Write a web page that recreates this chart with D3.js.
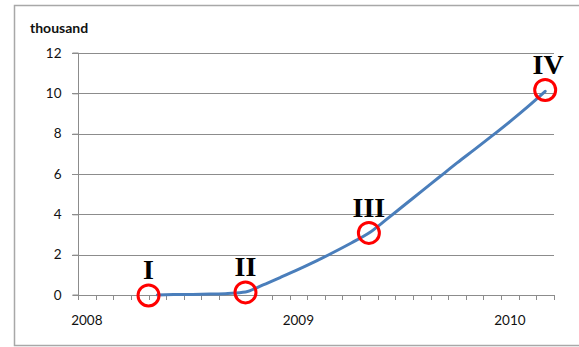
<!DOCTYPE html>
<html>
<head>
<meta charset="utf-8">
<script src="https://cdn.jsdelivr.net/npm/d3@7/dist/d3.min.js"></script>
<style>
  html, body { margin: 0; padding: 0; background: #fff; }
  svg { display: block; }
</style>
</head>
<body>
<svg id="chart" width="579" height="347"></svg>
<script>
// Monthly categories, Jan 2008 .. Mar 2010
const months = d3.range(27);
const yearLabels = [{ month: 0, text: "2008" }, { month: 12, text: "2009" }, { month: 24, text: "2010" }];

// Cumulative count (thousand), starting May 2008
const seriesMonths = [4, 5, 6, 7, 8, 9, 10, 11, 12, 13, 14, 15, 16, 17, 18, 19, 20, 21, 22, 23, 24, 25, 26];
const seriesValues = [0, 0.02, 0.03, 0.05, 0.08, 0.15, 0.5, 0.88, 1.27, 1.68, 2.12, 2.58, 3.07, 3.75, 4.45, 5.15, 5.85, 6.55, 7.22, 7.9, 8.6, 9.33, 10.1];

// Y axis ticks
const yTicks = [0, 2, 4, 6, 8, 10, 12];

// Phase markers (circles with roman numerals)
const phaseLabels = ["I", "II", "III", "IV"];
const phaseMonths = [3.5, 9, 16, 26];
const phaseValues = [-0.02, 0.13, 3.08, 10.17];

const svg = d3.select("#chart");

const margin = { left: 78, right: 554, top: 53, bottom: 295 };

const x = d3.scaleBand().domain(months).range([margin.left, margin.right]).padding(0);
const xc = m => margin.left + (m + 0.5) * x.step();
const y = d3.scaleLinear().domain([0, 12]).range([margin.bottom, margin.top]);

// Chart area border
svg.append("rect")
  .attr("x", 14.5).attr("y", 5.5)
  .attr("width", 600).attr("height", 340)
  .attr("fill", "none")
  .attr("stroke", "#a8a8a8")
  .attr("stroke-width", 1.5);

// Horizontal gridlines (extend left as tick marks)
svg.append("g").selectAll("line")
  .data(yTicks.filter(d => d > 0))
  .join("line")
  .attr("x1", margin.left - 6).attr("x2", margin.right)
  .attr("y1", d => Math.round(y(d)) + 0.5).attr("y2", d => Math.round(y(d)) + 0.5)
  .attr("stroke", "#8c8c8c").attr("stroke-width", 1);

// Y axis
const yAxis = d3.axisLeft(y).tickValues(yTicks).tickSize(6).tickPadding(11);
const gy = svg.append("g")
  .attr("transform", `translate(${margin.left + 0.5},0)`)
  .call(yAxis);
gy.select(".domain").attr("stroke", "#8c8c8c").attr("d", `M-6,${margin.top}H0V${margin.bottom}H-6`);
gy.selectAll(".tick line").attr("stroke", "#8c8c8c");
gy.selectAll(".tick text")
  .attr("font-family", "Lato, 'Open Sans', sans-serif")
  .attr("font-size", 13.5)
  .attr("fill", "#111");

// X axis with monthly tick marks at category boundaries
const boundaries = d3.range(28).map(i => margin.left + i * x.step());
const gx = svg.append("g");
gx.append("line")
  .attr("x1", margin.left).attr("x2", margin.right)
  .attr("y1", margin.bottom + 0.5).attr("y2", margin.bottom + 0.5)
  .attr("stroke", "#8c8c8c");
gx.selectAll("line.tk")
  .data(boundaries)
  .join("line")
  .attr("class", "tk")
  .attr("x1", d => Math.round(d) + 0.5).attr("x2", d => Math.round(d) + 0.5)
  .attr("y1", margin.bottom).attr("y2", margin.bottom + 5)
  .attr("stroke", "#8c8c8c");
gx.selectAll("text")
  .data(yearLabels)
  .join("text")
  .attr("x", d => xc(d.month))
  .attr("y", margin.bottom + 30)
  .attr("text-anchor", "middle")
  .attr("font-family", "Lato, 'Open Sans', sans-serif")
  .attr("font-size", 13.5)
  .attr("fill", "#111")
  .text(d => d.text);

// Unit label
svg.append("text")
  .attr("x", 30).attr("y", 33)
  .attr("font-family", "Lato, 'Open Sans', sans-serif")
  .attr("font-size", 14)
  .attr("font-weight", "bold")
  .attr("fill", "#111")
  .text("thousand");

// Series line
const points = seriesMonths.map((m, i) => [xc(m), y(seriesValues[i])]);
svg.append("path")
  .attr("d", d3.line().curve(d3.curveMonotoneX)(points))
  .attr("fill", "none")
  .attr("stroke", "#4a7ebb")
  .attr("stroke-width", 3)
  .attr("stroke-linecap", "round");

// Phase markers
const phases = phaseLabels.map((t, i) => ({ t, m: phaseMonths[i], v: phaseValues[i] }));
svg.append("g").selectAll("circle")
  .data(phases)
  .join("circle")
  .attr("cx", d => xc(d.m))
  .attr("cy", d => y(d.v))
  .attr("r", 10.5)
  .attr("fill", "none")
  .attr("stroke", "#ff0000")
  .attr("stroke-width", 3);

svg.append("g").selectAll("text")
  .data(phases)
  .join("text")
  .attr("x", d => xc(d.m) + (d.t === "IV" ? 3 : 0))
  .attr("y", d => y(d.v) - 16)
  .attr("text-anchor", "middle")
  .attr("font-family", "'Liberation Serif', 'Times New Roman', serif")
  .attr("font-weight", "bold")
  .attr("font-size", 28)
  .attr("fill", "#000")
  .text(d => d.t);
</script>
</body>
</html>
